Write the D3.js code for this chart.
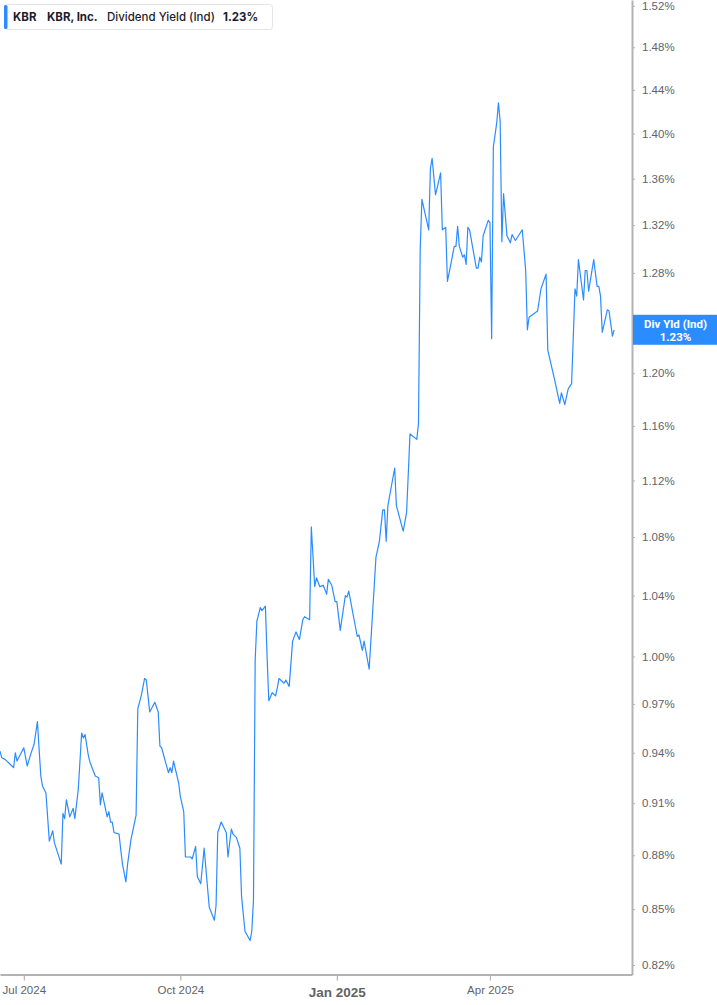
<!DOCTYPE html>
<html>
<head>
<meta charset="utf-8">
<script src="https://cdn.jsdelivr.net/npm/d3@7"></script>
<style>
  body { margin: 0; background: #fff; }
  svg { display: block; font-family: Roboto, "Liberation Sans", sans-serif; }
  .axis path, .axis line { stroke: #b3b3b3; }
  .axis text { fill: #5f6368; }
</style>
</head>
<body>
<svg id="chart" width="717" height="1005"></svg>
<script>
// KBR dividend yield (indicated), %
const dates = [
  "2024-06-17","2024-06-18","2024-06-20","2024-06-24","2024-06-25","2024-06-26","2024-06-27",
  "2024-07-01","2024-07-03","2024-07-05","2024-07-07","2024-07-09","2024-07-10","2024-07-11",
  "2024-07-12","2024-07-14","2024-07-16","2024-07-18","2024-07-19","2024-07-23","2024-07-24",
  "2024-07-25","2024-07-26","2024-07-28","2024-07-30","2024-07-31","2024-08-02","2024-08-04",
  "2024-08-05","2024-08-06","2024-08-08","2024-08-09","2024-08-12","2024-08-14","2024-08-15",
  "2024-08-16","2024-08-19","2024-08-20","2024-08-21","2024-08-22","2024-08-23","2024-08-26",
  "2024-08-27","2024-08-28","2024-08-30","2024-08-31","2024-09-02","2024-09-05","2024-09-06",
  "2024-09-08","2024-09-10","2024-09-11","2024-09-13","2024-09-16","2024-09-18","2024-09-19",
  "2024-09-20","2024-09-24","2024-09-25","2024-09-26","2024-09-27","2024-09-30","2024-10-01",
  "2024-10-03","2024-10-04","2024-10-07","2024-10-08","2024-10-10","2024-10-11","2024-10-13",
  "2024-10-15","2024-10-18","2024-10-21","2024-10-22","2024-10-23","2024-10-25","2024-10-28",
  "2024-10-29","2024-10-31","2024-11-01","2024-11-03","2024-11-05","2024-11-06","2024-11-08",
  "2024-11-11","2024-11-12","2024-11-13","2024-11-14","2024-11-15","2024-11-17","2024-11-18",
  "2024-11-20","2024-11-21","2024-11-22","2024-11-24","2024-11-26","2024-11-27","2024-11-28",
  "2024-12-01","2024-12-02","2024-12-04","2024-12-06","2024-12-08","2024-12-10","2024-12-12",
  "2024-12-13","2024-12-16","2024-12-17","2024-12-19","2024-12-20","2024-12-22","2024-12-24",
  "2024-12-26","2024-12-27","2024-12-29","2024-12-31","2025-01-01","2025-01-03","2025-01-06",
  "2025-01-07","2025-01-08","2025-01-13","2025-01-14","2025-01-16","2025-01-17","2025-01-20",
  "2025-01-24","2025-01-26","2025-01-28","2025-01-29","2025-01-30","2025-01-31","2025-02-04",
  "2025-02-05","2025-02-09","2025-02-11","2025-02-12","2025-02-13","2025-02-17","2025-02-18",
  "2025-02-19","2025-02-20","2025-02-24","2025-02-25","2025-02-26","2025-02-28","2025-03-03",
  "2025-03-04","2025-03-06","2025-03-07","2025-03-09","2025-03-11","2025-03-12","2025-03-13",
  "2025-03-14","2025-03-16","2025-03-17","2025-03-18","2025-03-19","2025-03-20","2025-03-24",
  "2025-03-25","2025-03-26","2025-03-27","2025-03-28","2025-03-31","2025-04-01","2025-04-02",
  "2025-04-03","2025-04-05","2025-04-06","2025-04-07","2025-04-08","2025-04-09","2025-04-11",
  "2025-04-13","2025-04-14","2025-04-16","2025-04-20","2025-04-22","2025-04-23","2025-04-24",
  "2025-04-29","2025-05-01","2025-05-04","2025-05-05","2025-05-09","2025-05-12","2025-05-13",
  "2025-05-15","2025-05-17","2025-05-19","2025-05-21","2025-05-22","2025-05-23","2025-05-26",
  "2025-05-27","2025-05-28","2025-05-29","2025-06-01","2025-06-03","2025-06-04","2025-06-05",
  "2025-06-06","2025-06-09","2025-06-10","2025-06-12","2025-06-13"
];

const yields = [
  0.941, 0.937, 0.936, 0.932, 0.931, 0.940, 0.935,
  0.943, 0.932, 0.939, 0.945, 0.959, 0.942, 0.926,
  0.920, 0.916, 0.888, 0.894, 0.887, 0.875, 0.904,
  0.901, 0.912, 0.902, 0.907, 0.901, 0.918, 0.952,
  0.949, 0.951, 0.938, 0.934, 0.926, 0.925, 0.909,
  0.916, 0.902, 0.905, 0.899, 0.899, 0.893, 0.892,
  0.883, 0.875, 0.865, 0.875, 0.889, 0.903, 0.967,
  0.975, 0.986, 0.985, 0.965, 0.971, 0.965, 0.944,
  0.943, 0.928, 0.931, 0.928, 0.935, 0.922, 0.914,
  0.905, 0.879, 0.879, 0.878, 0.885, 0.868, 0.864,
  0.884, 0.851, 0.844, 0.852, 0.893, 0.899, 0.893,
  0.879, 0.895, 0.892, 0.890, 0.884, 0.857, 0.838,
  0.833, 0.838, 0.855, 0.998, 1.023, 1.032, 1.030,
  1.033, 1.000, 0.972, 0.977, 0.975, 0.980, 0.986,
  0.983, 0.985, 0.981, 1.010, 1.016, 1.011, 1.024,
  1.026, 1.024, 1.087, 1.046, 1.052, 1.046, 1.047,
  1.041, 1.051, 1.047, 1.036, 1.036, 1.017, 1.040,
  1.039, 1.043, 1.013, 1.014, 1.004, 1.010, 0.992,
  1.066, 1.077, 1.099, 1.099, 1.077, 1.102, 1.129,
  1.102, 1.084, 1.097, 1.125, 1.154, 1.150, 1.162,
  1.299, 1.342, 1.316, 1.369, 1.378, 1.346, 1.365,
  1.316, 1.318, 1.273, 1.287, 1.302, 1.302, 1.319,
  1.302, 1.293, 1.295, 1.287, 1.318, 1.316, 1.284,
  1.284, 1.293, 1.289, 1.311, 1.324, 1.322, 1.227,
  1.388, 1.410, 1.428, 1.411, 1.306, 1.347, 1.311,
  1.305, 1.312, 1.307, 1.316, 1.282, 1.234, 1.244,
  1.249, 1.267, 1.279, 1.218, 1.195, 1.177, 1.185,
  1.176, 1.188, 1.192, 1.267, 1.261, 1.291, 1.258,
  1.282, 1.282, 1.265, 1.291, 1.269, 1.269, 1.261,
  1.232, 1.250, 1.249, 1.229, 1.234
];

// 1.24% sits under the last-value badge in the reference, so it is not listed
const yTicks = [0.82, 0.85, 0.88, 0.91, 0.94, 0.97, 1.00, 1.04, 1.08, 1.12,
  1.16, 1.20, 1.28, 1.32, 1.36, 1.40, 1.44, 1.48, 1.52];
const xTicks = ["2024-07-01", "2024-10-01", "2025-01-01", "2025-04-01"];
const xTickLabels = ["Jul 2024", "Oct 2024", "Jan 2025", "Apr 2025"];

const parse = d3.timeParse("%Y-%m-%d");
const data = dates.map((d, i) => ({ date: parse(d), value: yields[i] }));
const last = data[data.length - 1];

const W = 632;   // plot right edge (y axis)
const H = 974.5; // plot bottom edge (x axis)
const blue = "#2b8cff";

const svg = d3.select("#chart");

const xScale = d3
  .scaleTime()
  .domain([new Date(2024, 5, 17), new Date(2025, 5, 23, 12)])
  .range([0, W]);

const yScale = d3
  .scaleLog()
  .domain([0.815, 1.5257])
  .range([H, 0]);

svg.append("clipPath")
  .attr("id", "plot")
  .append("rect")
  .attr("width", W)
  .attr("height", H);

// line
svg.append("path")
  .datum(data)
  .attr("clip-path", "url(#plot)")
  .attr("fill", "none")
  .attr("stroke", blue)
  .attr("stroke-width", 1.2)
  .attr("stroke-linejoin", "round")
  .attr("d", d3.line().x((d) => xScale(d.date)).y((d) => yScale(d.value)));

// x axis
const xAxis = svg.append("g")
  .attr("class", "axis")
  .attr("transform", `translate(0,${H})`)
  .call(
    d3.axisBottom(xScale)
      .tickValues(xTicks.map(parse))
      .tickFormat((d, i) => xTickLabels[i])
      .tickSize(6)
      .tickSizeOuter(0)
  );
xAxis.select(".domain").attr("stroke-width", 2);
xAxis.selectAll(".tick line").attr("stroke-width", 1.2);
xAxis.selectAll(".tick text")
  .attr("y", 10)
  .style("font-size", (d, i) => (xTickLabels[i] === "Jan 2025" ? "13.5px" : "11.5px"))
  .style("font-weight", (d, i) => (xTickLabels[i] === "Jan 2025" ? 700 : 500))
  .attr("dy", (d, i) => (xTickLabels[i] === "Jan 2025" ? "0.95em" : "0.8em"));

// y axis
const yAxis = svg.append("g")
  .attr("class", "axis")
  .attr("transform", `translate(${W},0)`)
  .call(
    d3.axisRight(yScale)
      .tickValues(yTicks)
      .tickFormat((d) => d.toFixed(2) + "%")
      .tickSize(3)
      .tickPadding(7)
      .tickSizeOuter(0)
  );
yAxis.select(".domain").attr("stroke-width", 2);
yAxis.selectAll(".tick line").attr("stroke", "#777");
yAxis.selectAll(".tick text").style("font-size", "11.5px");

// last value badge
const badge = svg.append("g")
  .attr("transform", `translate(${W + 1},${yScale(last.value) - 15})`);
badge.append("rect")
  .attr("width", 717 - W - 1)
  .attr("height", 30)
  .attr("fill", blue);
badge.append("text")
  .attr("x", (717 - W) / 2)
  .attr("y", 13)
  .attr("text-anchor", "middle")
  .attr("fill", "#fff")
  .style("font-size", "11.5px")
  .style("font-weight", 700)
  .text("Div Yld (Ind)");
badge.append("text")
  .attr("x", (717 - W) / 2)
  .attr("y", 26)
  .attr("text-anchor", "middle")
  .attr("fill", "#fff")
  .style("font-size", "11.5px")
  .style("font-weight", 700)
  .text(last.value.toFixed(2) + "%");

// legend
const legend = svg.append("g").attr("transform", "translate(4,4)");
legend.append("rect")
  .attr("x", 0.5)
  .attr("y", 0.5)
  .attr("width", 268)
  .attr("height", 25)
  .attr("rx", 3)
  .attr("fill", "#fff")
  .attr("stroke", "#e4e4e4");
legend.append("rect")
  .attr("x", 0)
  .attr("y", 1)
  .attr("width", 3.5)
  .attr("height", 24)
  .attr("rx", 1.5)
  .attr("fill", blue);

const legendItems = [
  { text: "KBR", x: 9, weight: 700 },
  { text: "KBR, Inc.", x: 43, weight: 700 },
  { text: "Dividend Yield (Ind)", x: 103, weight: 500 },
  { text: last.value.toFixed(2) + "%", x: 219, weight: 700 },
];
legend.selectAll(".item")
  .data(legendItems)
  .enter()
  .append("text")
  .attr("class", "item")
  .attr("x", (d) => d.x)
  .attr("y", 17)
  .attr("fill", "#1d1d2b")
  .style("font-family", "Inter, Roboto, sans-serif")
  .style("font-size", "11.5px")
  .style("font-weight", (d) => d.weight)
  .text((d) => d.text);
</script>
</body>
</html>
